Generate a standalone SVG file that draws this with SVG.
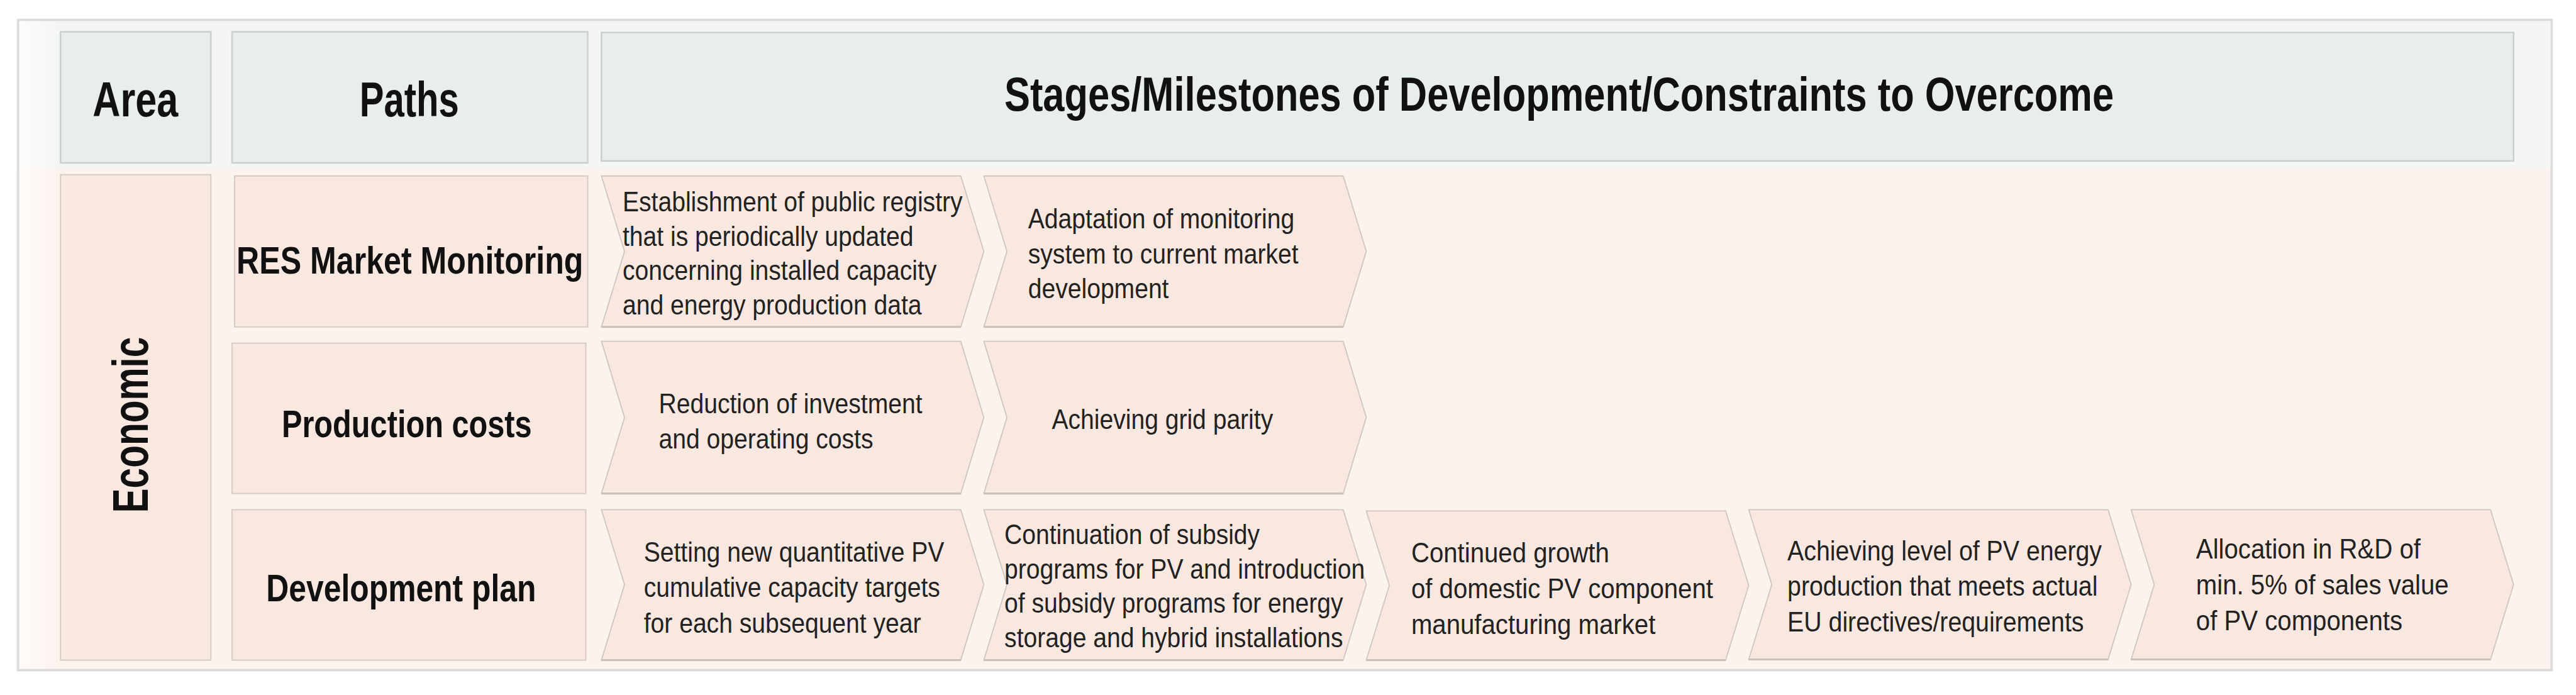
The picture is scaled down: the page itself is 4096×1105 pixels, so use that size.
<svg xmlns="http://www.w3.org/2000/svg" width="4096" height="1105" viewBox="0 0 4096 1105">
<defs>
<style>
.hd{fill:#e8eded;stroke:#c9cecf;stroke-width:2.5}
.pk{fill:#f9e8df;stroke:#d6cbc6;stroke-width:2}
.ch{fill:#f9e8df;stroke:#cfc5c0;stroke-width:1.8}
.h{font-family:"Liberation Sans",Arial,sans-serif;font-weight:bold;fill:#111;text-anchor:middle}
.b{font-family:"Liberation Sans",Arial,sans-serif;font-size:45px;fill:#222}
.sh{stroke:#c9bfbb;stroke-width:3;fill:none}
</style>
<linearGradient id="lg" x1="0" y1="0" x2="1" y2="0">
<stop offset="0" stop-color="#ffffff" stop-opacity="0.7"/>
<stop offset="1" stop-color="#ffffff" stop-opacity="0"/>
</linearGradient>
</defs>
<g transform="scale(0.992)">
<g id="frame">
<rect x="29" y="32" width="4061" height="1042" fill="#fcf3ee" stroke="#dcdcdc" stroke-width="4"/>
<rect x="31" y="34" width="4057" height="234" fill="#f4f6f6"/>
<rect x="31" y="34" width="60" height="1038" fill="url(#lg)"/>
</g>
<g id="header-area"><rect class="hd" x="97" y="51" width="241" height="210"/><text class="h" transform="translate(217,186) scale(0.79,1)" font-size="78">Area</text></g>
<g id="header-paths"><rect class="hd" x="372" y="51" width="570" height="210"/><text class="h" transform="translate(656,186) scale(0.75,1)" font-size="78">Paths</text></g>
<g id="header-stages"><rect class="hd" x="964" y="52" width="3065" height="206"/><text class="h" transform="translate(2499,177) scale(0.804,1)" font-size="77">Stages/Milestones of Development/Constraints to Overcome</text></g>
<g id="area-economic"><rect class="pk" x="97" y="280" width="241" height="778"/><text class="h" transform="translate(237,681) rotate(-90) scale(0.738,1)" font-size="80">Economic</text></g>
<g id="path-res"><rect class="pk" x="376" y="282" width="566" height="242"/><text class="h" transform="translate(657,439) scale(0.815,1)" font-size="62">RES Market Monitoring</text></g>
<g id="path-production"><rect class="pk" x="372" y="550" width="567" height="241"/><text class="h" transform="translate(652,701) scale(0.792,1)" font-size="62">Production costs</text></g>
<g id="path-development"><rect class="pk" x="372" y="817" width="567" height="241"/><text class="h" transform="translate(643,964) scale(0.81,1)" font-size="62">Development plan</text></g>

<g id="r1c1"><path class="ch" d="M964,282 H1540 L1577,403 L1540,524 H964 L1001,403 Z"/><line class="sh" x1="964" y1="524" x2="1540" y2="524"/>
<text class="b" transform="translate(998,0) scale(0.875,1)"><tspan x="0" y="339">Establishment of public registry</tspan><tspan x="0" y="394">that is periodically updated</tspan><tspan x="0" y="449">concerning installed capacity</tspan><tspan x="0" y="504">and energy production data</tspan></text></g>
<g id="r1c2"><path class="ch" d="M1577,282 H2153 L2190,403 L2153,524 H1577 L1614,403 Z"/><line class="sh" x1="1577" y1="524" x2="2153" y2="524"/>
<text class="b" transform="translate(1648,0) scale(0.875,1)"><tspan x="0" y="366">Adaptation of monitoring</tspan><tspan x="0" y="422">system to current market</tspan><tspan x="0" y="478">development</tspan></text></g>

<g id="r2c1"><path class="ch" d="M964,547 H1540 L1577,669 L1540,791 H964 L1001,669 Z"/><line class="sh" x1="964" y1="791" x2="1540" y2="791"/>
<text class="b" transform="translate(1056,0) scale(0.875,1)"><tspan x="0" y="662">Reduction of investment</tspan><tspan x="0" y="719">and operating costs</tspan></text></g>
<g id="r2c2"><path class="ch" d="M1577,547 H2153 L2190,669 L2153,791 H1577 L1614,669 Z"/><line class="sh" x1="1577" y1="791" x2="2153" y2="791"/>
<text class="b" transform="translate(1686,0) scale(0.875,1)"><tspan x="0" y="687">Achieving grid parity</tspan></text></g>

<g id="r3c1"><path class="ch" d="M964,817 H1540 L1577,937 L1540,1058 H964 L1001,937 Z"/><line class="sh" x1="964" y1="1058" x2="1540" y2="1058"/>
<text class="b" transform="translate(1032,0) scale(0.875,1)"><tspan x="0" y="900">Setting new quantitative PV</tspan><tspan x="0" y="957">cumulative capacity targets</tspan><tspan x="0" y="1014">for each subsequent year</tspan></text></g>
<g id="r3c2"><path class="ch" d="M1577,817 H2153 L2190,937 L2153,1058 H1577 L1614,937 Z"/><line class="sh" x1="1577" y1="1058" x2="2153" y2="1058"/>
<text class="b" transform="translate(1610,0) scale(0.875,1)"><tspan x="0" y="872">Continuation of subsidy</tspan><tspan x="0" y="927">programs for PV and introduction</tspan><tspan x="0" y="982">of subsidy programs for energy</tspan><tspan x="0" y="1037">storage and hybrid installations</tspan></text></g>
<g id="r3c3"><path class="ch" d="M2190,819 H2766 L2803,938 L2766,1058 H2190 L2227,938 Z"/><line class="sh" x1="2190" y1="1058" x2="2766" y2="1058"/>
<text class="b" transform="translate(2262,0) scale(0.9,1)"><tspan x="0" y="901">Continued growth</tspan><tspan x="0" y="959">of domestic PV component</tspan><tspan x="0" y="1016">manufacturing market</tspan></text></g>
<g id="r3c4"><path class="ch" d="M2803,817 H3379 L3416,937 L3379,1057 H2803 L2840,937 Z"/><line class="sh" x1="2803" y1="1057" x2="3379" y2="1057"/>
<text class="b" transform="translate(2865,0) scale(0.88,1)"><tspan x="0" y="898">Achieving level of PV energy</tspan><tspan x="0" y="955">production that meets actual</tspan><tspan x="0" y="1012">EU directives/requirements</tspan></text></g>
<g id="r3c5"><path class="ch" d="M3416,817 H3992 L4029,937 L3992,1057 H3416 L3453,937 Z"/><line class="sh" x1="3416" y1="1057" x2="3992" y2="1057"/>
<text class="b" transform="translate(3520,0) scale(0.9,1)"><tspan x="0" y="895">Allocation in R&amp;D of</tspan><tspan x="0" y="953">min. 5% of sales value</tspan><tspan x="0" y="1010">of PV components</tspan></text></g>
<g id="connectors"/>
</g>
</svg>
